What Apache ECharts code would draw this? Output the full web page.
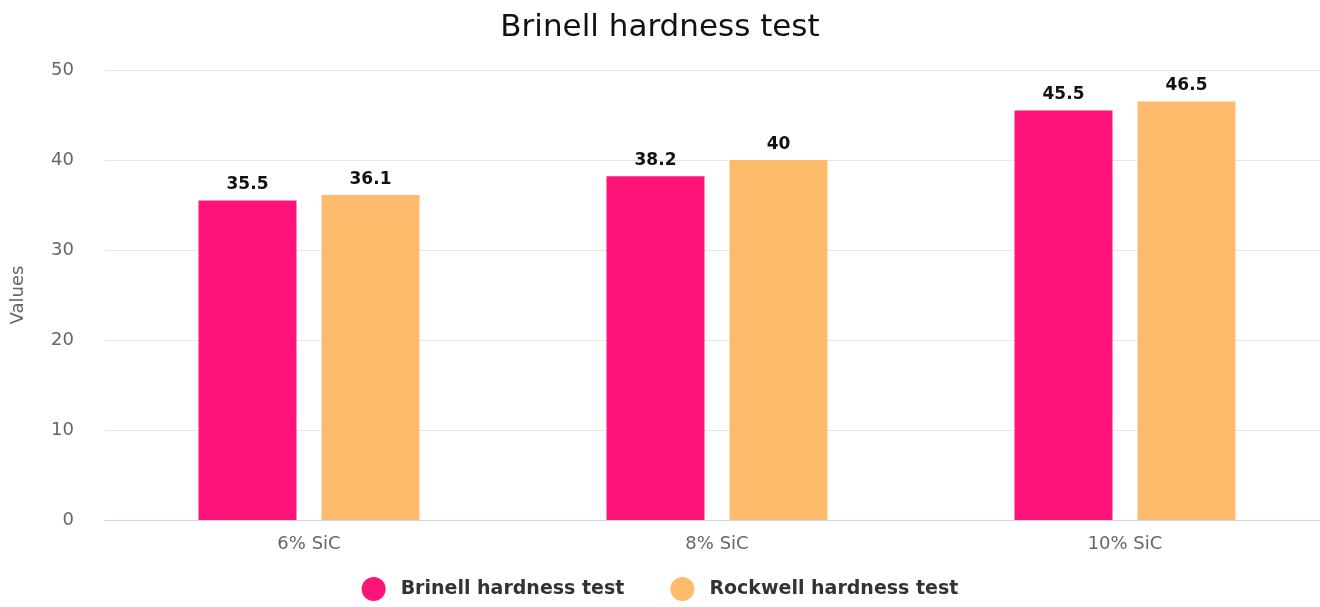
<!DOCTYPE html>
<html><head><meta charset="utf-8">
<script src="https://cdn.jsdelivr.net/npm/echarts@6/dist/echarts.min.js"></script>
<style>html,body{margin:0;padding:0;background:#fff}#c{width:1320px;height:607px}</style>
</head><body><div id="c"></div>
<script>
const categories = ['6% SiC', '8% SiC', '10% SiC'];
const brinell = [35.5, 38.2, 45.5];
const rockwell = [36.1, 40, 46.5];
const seriesNames = ['Brinell hardness test', 'Rockwell hardness test'];
const yTicks = [0, 10, 20, 30, 40, 50];

const FONT = 'DejaVu Sans';
const chart = echarts.init(document.getElementById('c'));
const labelStyle = {show: true, position: 'top', distance: 7, color: '#111', fontWeight: 'bold', fontSize: 17, fontFamily: FONT};
chart.setOption({
  animation: false,
  title: {text: 'Brinell hardness test', left: 'center', top: 7, textStyle: {fontFamily: FONT, fontWeight: 'normal', fontSize: 31, color: '#111'}},
  legend: {bottom: 1, left: 'center', itemWidth: 24, itemHeight: 24, itemGap: 46, icon: 'circle',
    textStyle: {fontFamily: FONT, fontWeight: 'bold', fontSize: 19, color: '#333', padding: [0,0,0,10]}},
  grid: {left: 105, width: 1224, top: 70, bottom: 87, outerBoundsMode: 'none', containLabel: false},
  xAxis: {type: 'category', data: categories,
    axisLine: {lineStyle: {color: '#ccd6eb', width: 1}}, axisTick: {show: false},
    axisLabel: {color: '#666', fontSize: 18, fontFamily: FONT, margin: 15}},
  yAxis: {type: 'value', min: yTicks[0], max: yTicks[yTicks.length-1], interval: 10,
    name: 'Values', nameLocation: 'middle', nameGap: 78, nameRotate: 90,
    nameTextStyle: {color: '#666', fontSize: 18, fontFamily: FONT},
    axisLabel: {color: '#666', fontSize: 18, fontFamily: FONT, margin: 31},
    splitLine: {lineStyle: {color: '#e6e6e6'}}},
  series: [
    {name: seriesNames[0], type: 'bar', data: brinell, barWidth: 98, barGap: '25.5%', itemStyle: {color: '#fe1478'}, label: labelStyle},
    {name: seriesNames[1], type: 'bar', data: rockwell, barWidth: 98, itemStyle: {color: '#fdbb6b'}, label: labelStyle}
  ]
});
</script></body></html>
